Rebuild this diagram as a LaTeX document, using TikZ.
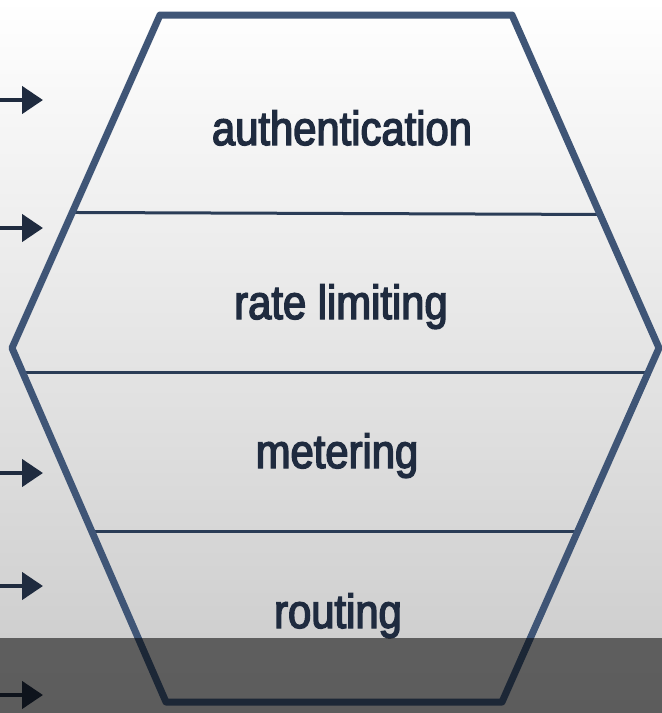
\documentclass[tikz,border=0pt]{standalone}
\usepackage{fontspec}
\setmainfont[FakeStretch=0.87,FakeBold=3]{Liberation Sans}
\usepackage{tikz}
\usetikzlibrary{arrows.meta, calc, positioning}
\definecolor{hexline}{HTML}{3F5576}
\definecolor{layerline}{HTML}{2B3D57}
\definecolor{labeltext}{HTML}{1F2B3F}
\tikzstyle{layer} = [text=labeltext, font=\fontsize{48}{48}\selectfont, inner sep=0pt, anchor=base]
\tikzstyle{divider} = [draw=layerline, line width=3pt]
\tikzstyle{arrow} = [draw=labeltext, line width=4.5pt, -{Triangle[length=21pt, width=27pt]}]

\begin{document}
\begin{tikzpicture}[x=1pt, y=-1pt]
	\shade[top color=white, middle color=black!5, bottom color=black!21] (0,0) rectangle (662,713);
	\useasboundingbox (0,0) rectangle (662,713);
	% hexagon corners
	\coordinate (TL) at (160,15);
	\coordinate (TR) at (512,15);
	\coordinate (R) at (659,348);
	\coordinate (BR) at (502,702);
	\coordinate (BL) at (166,702);
	\coordinate (L) at (12,348);
	\draw [divider] ($(TL)!0.593!(L)$) -- ($(TR)!0.599!(R)$);
	\draw [divider] ($(L)!0.068!(BL)$) -- ($(R)!0.068!(BR)$);
	\draw [divider] ($(L)!0.517!(BL)$) -- ($(R)!0.517!(BR)$);
	\draw [hexline, line width=7pt, line join=round] (TL) -- (TR) -- (R) -- (BR) -- (BL) -- (L) -- cycle;
	\node (Auth) [layer] at (342,145) {authentication};
	\node (Rate) [layer] at (341,319) {rate limiting};
	\node (Meter) [layer] at (337,468) {metering};
	\node (Route) [layer] at (338,628) {routing};
	% incoming requests
	\foreach \y [count=\i] in {100,228,473,586,695}{
		\coordinate (In\i) at (0,\y);
		\coordinate (Tip\i) at (43,\y);
		\draw [arrow] (In\i) -- (Tip\i);
	}
	\fill [black, opacity=0.54] (0,638) rectangle (662,713);
\end{tikzpicture}
\end{document}
